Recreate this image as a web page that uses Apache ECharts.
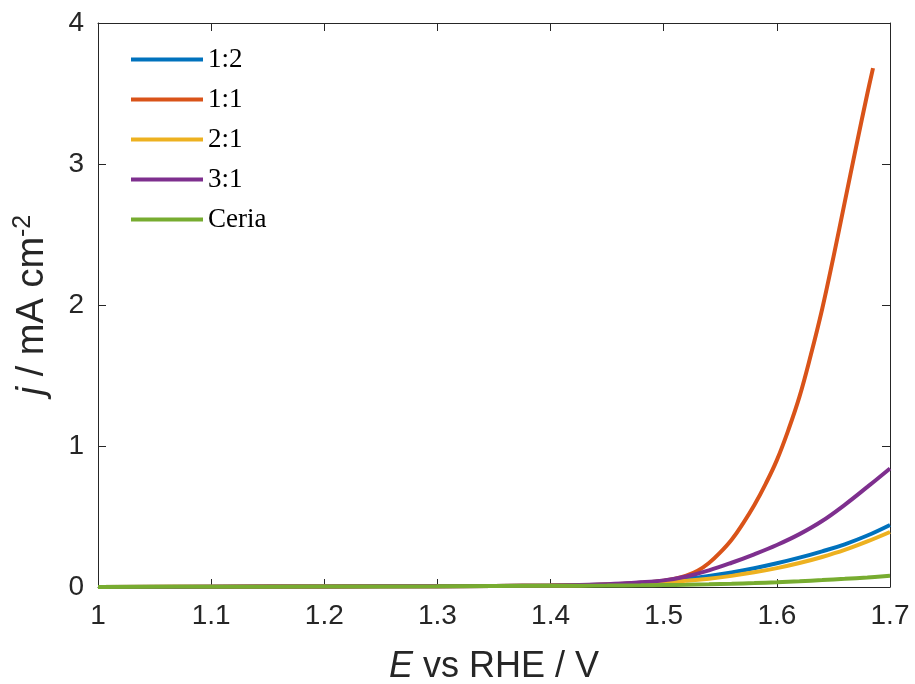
<!DOCTYPE html>
<html><head><meta charset="utf-8">
<script src="https://cdn.jsdelivr.net/npm/echarts@6/dist/echarts.min.js"></script>
<style>html,body{margin:0;padding:0;background:#fff}#c{width:915px;height:684px}</style>
</head><body><div id="c"></div>
<script>
// Data
const E = [1.00, 1.10, 1.20, 1.30, 1.40, 1.45, 1.48, 1.50, 1.52, 1.54, 1.56, 1.58, 1.60, 1.62, 1.64, 1.66, 1.68, 1.70];
const ratio12 = [0, 0.002, 0.004, 0.006, 0.010, 0.018, 0.030, 0.042, 0.058, 0.078, 0.103, 0.133, 0.168, 0.208, 0.253, 0.303, 0.365, 0.440];
const ratio21 = [0, 0.002, 0.004, 0.006, 0.010, 0.016, 0.025, 0.033, 0.044, 0.059, 0.079, 0.104, 0.134, 0.170, 0.213, 0.263, 0.323, 0.390];
const ratio31 = [-0.008, 0.002, 0.004, 0.006, 0.011, 0.020, 0.033, 0.047, 0.075, 0.118, 0.172, 0.232, 0.298, 0.375, 0.468, 0.583, 0.710, 0.840];
const ceria   = [0, 0.002, 0.003, 0.005, 0.008, 0.010, 0.012, 0.014, 0.016, 0.019, 0.023, 0.028, 0.034, 0.041, 0.049, 0.058, 0.068, 0.080];
const E11 = [1.00, 1.10, 1.20, 1.30, 1.40, 1.45, 1.48, 1.50, 1.51, 1.52, 1.53, 1.54, 1.55, 1.56, 1.57, 1.58, 1.59, 1.60, 1.61, 1.62, 1.63, 1.64, 1.65, 1.66, 1.67, 1.68, 1.685];
const ratio11 = [0, 0.002, 0.004, 0.006, 0.010, 0.018, 0.030, 0.045, 0.058, 0.080, 0.115, 0.170, 0.245, 0.335, 0.450, 0.580, 0.730, 0.900, 1.110, 1.350, 1.645, 1.970, 2.340, 2.730, 3.120, 3.500, 3.680];
const names = ['1:2', '1:1', '2:1', '3:1', 'Ceria'];
const colors = ['#0072BD', '#D95319', '#EDB120', '#7E2F8E', '#77AC30'];
const xTicks = [1, 1.1, 1.2, 1.3, 1.4, 1.5, 1.6, 1.7];
const yTicks = [0, 1, 2, 3, 4];

const pair = (xs, ys) => xs.map((x, i) => [x, ys[i]]);
const seriesData = [pair(E, ratio12), pair(E11, ratio11), pair(E, ratio21), pair(E, ratio31), pair(E, ceria)];

const axisCol = '#262626';
const chart = echarts.init(document.getElementById('c'));
const fmtX = v => { const r = Math.round(v * 10) / 10; return xTicks.some(t => Math.abs(t - r) < 1e-9) ? String(r) : ''; };
chart.setOption({
  animation: false,
  grid: { left: 98, right: 25, top: 23, bottom: 97, containLabel: false, outerBoundsMode: 'none' },
  legend: {
    left: 126, top: 41, orient: 'vertical', icon: 'rect',
    itemWidth: 72, itemHeight: 4, itemGap: 13,
    textStyle: { fontFamily: 'Liberation Serif', fontSize: 27, color: '#000', lineHeight: 26, padding: [0, 0, 0, 0] },
    data: names
  },
  xAxis: [{
    type: 'value', min: 1, max: 1.7, interval: 0.1,
    name: '{i|E} vs RHE / V', nameLocation: 'middle', nameGap: 62,
    nameTextStyle: { fontFamily: 'Liberation Sans', fontSize: 36, color: axisCol,
      rich: { i: { fontFamily: 'Liberation Sans', fontStyle: 'italic', fontSize: 36, color: axisCol } } },
    axisLine: { show: true, onZero: false, lineStyle: { color: axisCol, width: 1 } },
    axisTick: { show: true, inside: true, length: 8, lineStyle: { color: axisCol } },
    axisLabel: { fontFamily: 'Liberation Sans', fontSize: 28, color: axisCol, margin: 15, formatter: fmtX },
    splitLine: { show: false }
  }, {
    type: 'value', min: 1, max: 1.7, interval: 0.1, position: 'top',
    axisLine: { show: true, onZero: false, lineStyle: { color: axisCol, width: 1 } },
    axisTick: { show: true, inside: true, length: 8, lineStyle: { color: axisCol } },
    axisLabel: { show: false }, splitLine: { show: false }
  }],
  yAxis: [{
    type: 'value', min: 0, max: 4, interval: 1,
    name: '{i|j} / mA cm{s|-2}', nameLocation: 'middle', nameGap: 44,
    nameTextStyle: { fontFamily: 'Liberation Sans', fontSize: 38, color: axisCol,
      rich: { i: { fontFamily: 'Liberation Sans', fontStyle: 'italic', fontSize: 38, color: axisCol },
              s: { fontFamily: 'Liberation Sans', fontSize: 25, color: axisCol, verticalAlign: 'top', padding: [0, 0, 18, 0] } } },
    axisLine: { show: true, onZero: false, lineStyle: { color: axisCol, width: 1 } },
    axisTick: { show: true, inside: true, length: 8, lineStyle: { color: axisCol } },
    axisLabel: { fontFamily: 'Liberation Sans', fontSize: 28, color: axisCol, margin: 14,
      formatter: v => yTicks.includes(v) ? String(v) : '' },
    splitLine: { show: false }
  }, {
    type: 'value', min: 0, max: 4, interval: 1, position: 'right',
    axisLine: { show: true, onZero: false, lineStyle: { color: axisCol, width: 1 } },
    axisTick: { show: true, inside: true, length: 8, lineStyle: { color: axisCol } },
    axisLabel: { show: false }, splitLine: { show: false }
  }],
  series: names.map((n, k) => ({
    name: n, type: 'line', data: seriesData[k], smooth: 0.4, showSymbol: false,
    xAxisIndex: 0, yAxisIndex: 0,
    lineStyle: { width: 4, color: colors[k] }, itemStyle: { color: colors[k] }
  }))
});
</script></body></html>
